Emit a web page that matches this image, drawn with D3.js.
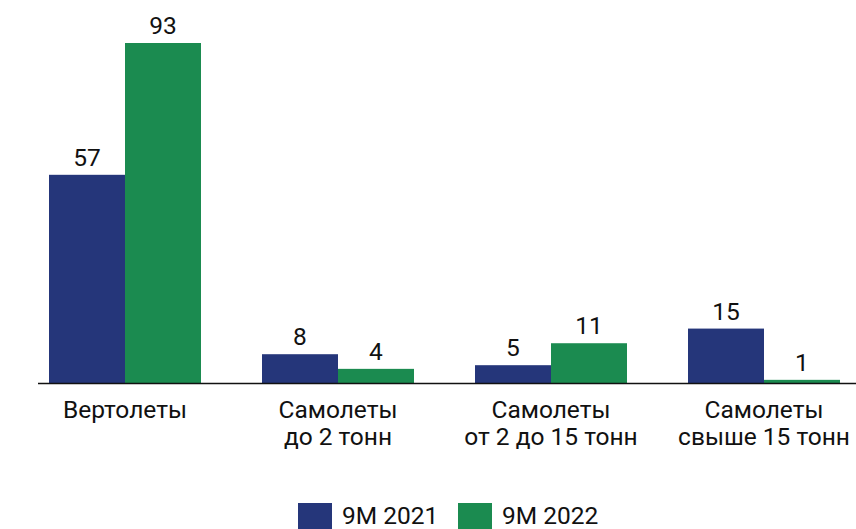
<!DOCTYPE html>
<html>
<head>
<meta charset="utf-8">
<script src="https://cdn.jsdelivr.net/npm/d3@7"></script>
<style>
  body { margin: 0; background: #fff; }
  text { font-family: Roboto, sans-serif; fill: #111; }
</style>
</head>
<body>
<div id="chart"></div>
<script>
// data
var categories = [["Вертолеты"], ["Самолеты", "до 2 тонн"], ["Самолеты", "от 2 до 15 тонн"], ["Самолеты", "свыше 15 тонн"]];
var seriesNames = ["9M 2021", "9M 2022"];
var values2021 = [57, 8, 5, 15];
var values2022 = [93, 4, 11, 1];

var colors = ["#25367a", "#1b8b50"];

var width = 856, height = 529;

var svg = d3.select("#chart").append("svg")
    .attr("width", width)
    .attr("height", height);

var x = d3.scaleBand()
    .domain(d3.range(categories.length))
    .range([18.5, 870.5])
    .paddingInner(0.2864)
    .paddingOuter(0.1432);

var xs = d3.scaleBand()
    .domain([0, 1])
    .range([0, x.bandwidth()]);

var y = d3.scaleLinear()
    .domain([0, 93])
    .range([383.5, 43]);

var rows = categories.map(function(c, i) {
    return { i: i, vals: [values2021[i], values2022[i]] };
});

var group = svg.append("g").selectAll("g")
    .data(rows)
    .enter().append("g")
    .attr("transform", function(d) { return "translate(" + x(d.i) + ",0)"; });

group.selectAll("rect")
    .data(function(d) { return d.vals; })
    .enter().append("rect")
    .attr("x", function(d, j) { return xs(j); })
    .attr("y", function(d) { return y(d); })
    .attr("width", xs.bandwidth())
    .attr("height", function(d) { return y(0) - y(d); })
    .style("fill", function(d, j) { return colors[j]; });

// value labels
group.selectAll(".val")
    .data(function(d) { return d.vals; })
    .enter().append("text")
    .attr("class", "val")
    .attr("x", function(d, j) { return xs(j) + xs.bandwidth() / 2; })
    .attr("y", function(d) { return y(d) - 9; })
    .attr("text-anchor", "middle")
    .style("font-size", "24.5px")
    .text(function(d) { return d; });

// axis line
svg.append("line")
    .attr("x1", 38).attr("x2", 856)
    .attr("y1", y(0)).attr("y2", y(0))
    .style("stroke", "#111")
    .style("stroke-width", 1.5);

// category labels
var labels = svg.append("g").selectAll("text")
    .data(categories)
    .enter().append("text")
    .attr("x", function(d, i) { return x(i) + x.bandwidth() / 2; })
    .attr("y", 418)
    .attr("text-anchor", "middle")
    .style("font-size", "24.5px");

labels.selectAll("tspan")
    .data(function(d) { return d; })
    .enter().append("tspan")
    .attr("x", function() { return d3.select(this.parentNode).attr("x"); })
    .attr("dy", function(d, k) { return k === 0 ? 0 : 27; })
    .text(function(d) { return d; });

// legend
var legendX = [298, 458];
var legend = svg.append("g").selectAll("g")
    .data(seriesNames)
    .enter().append("g")
    .attr("transform", function(d, i) { return "translate(" + legendX[i] + ",503)"; });

legend.append("rect")
    .attr("width", 34)
    .attr("height", 30)
    .style("fill", function(d, i) { return colors[i]; });

legend.append("text")
    .attr("x", 44)
    .attr("y", 21)
    .style("font-size", "24.5px")
    .text(function(d) { return d; });
</script>
</body>
</html>
